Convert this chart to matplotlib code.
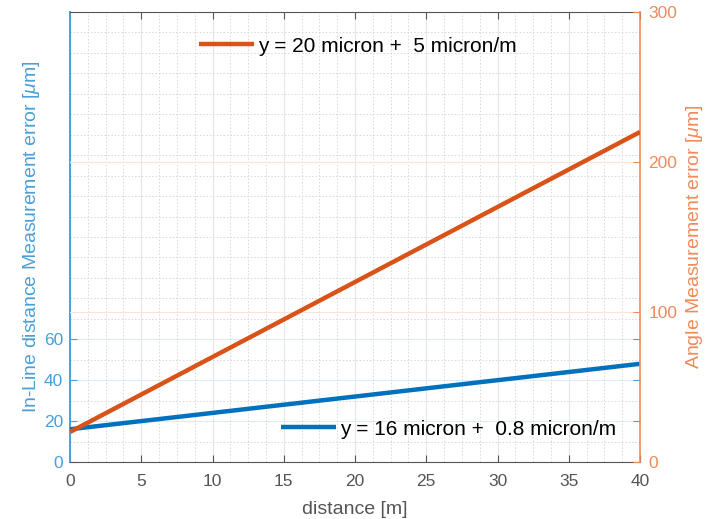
import numpy as np
import matplotlib
matplotlib.use("Agg")
import matplotlib.pyplot as plt
from matplotlib.ticker import MultipleLocator

plt.rcParams['font.family'] = ['Liberation Sans', 'DejaVu Sans']
plt.rcParams['mathtext.fontset'] = 'custom'
plt.rcParams['mathtext.it'] = 'Liberation Sans:italic'
plt.rcParams['mathtext.rm'] = 'Liberation Sans'

distance = [0, 40]
inline_err = [16, 48]      # 16 micron + 0.8 micron/m
angle_err = [20, 220]      # 20 micron + 5 micron/m
x_ticks = [0, 5, 10, 15, 20, 25, 30, 35, 40]
left_ticks = [0, 20, 40, 60]
right_ticks = [0, 100, 200, 300]
label_inline = "y = 16 micron +  0.8 micron/m"
label_angle = "y = 20 micron +  5 micron/m"

blue_line = '#0072BD'
orange_line = '#D95319'
blue_axis = '#4a9fd8'
orange_axis = '#ef8a5c'
grey_text = '#555555'

fig = plt.figure(figsize=(7.05, 5.19), dpi=100)
ax = fig.add_axes([70/705, 57/519, 570/705, 450/519])
ax2 = ax.twinx()

ax.set_xlim(0, 40)
ax.set_ylim(0, 220)
ax2.set_ylim(0, 300)

# grids
ax.set_xticks(x_ticks)
ax.xaxis.set_minor_locator(MultipleLocator(1.25))
ax.yaxis.set_minor_locator(MultipleLocator(10))
for xv in x_ticks[1:-1]:
    ax.axvline(xv, color='#e6e6e6', lw=0.8, zorder=0)
ax.grid(which='minor', axis='both', color='#d8d8d8', ls=(0, (1.5, 2)), lw=0.7, zorder=0)
for yv in left_ticks[1:]:
    ax.axhline(yv, color='#dcecf8', lw=0.8, zorder=0)
for yv in right_ticks[1:-1]:
    ax2.axhline(yv, color='#fbe3d8', lw=0.8, zorder=0)

ax.set_yticks(left_ticks)
ax2.set_yticks(right_ticks)
ax.tick_params(axis='y', which='minor', length=0)
ax.tick_params(axis='x', which='minor', length=0)

l1, = ax.plot(distance, inline_err, color=blue_line, lw=3.2, solid_capstyle='butt', label=label_inline, zorder=3)
l2, = ax2.plot(distance, angle_err, color=orange_line, lw=3.2, solid_capstyle='butt', label=label_angle, zorder=3)

# spines
for sp in ['top', 'bottom']:
    ax.spines[sp].set_color('#555555')
    ax2.spines[sp].set_visible(False)
ax.spines['left'].set_color(blue_axis)
ax.spines['left'].set_linewidth(1.4)
ax2.spines['right'].set_color(orange_axis)
ax2.spines['right'].set_linewidth(1.2)
ax.spines['right'].set_visible(False)
ax2.spines['left'].set_visible(False)

ax.tick_params(axis='x', which='major', direction='in', top=True, length=5, colors='#555555',
               labelsize=12.5, labelcolor=grey_text, pad=9)
ax.tick_params(axis='y', which='major', direction='in', length=5, colors=blue_axis,
               labelsize=12.5, labelcolor=blue_axis, right=True, labelright=False, pad=5)
ax2.tick_params(axis='y', which='major', direction='in', length=5, colors=orange_axis,
                labelsize=12.5, labelcolor=orange_axis, pad=6)

ax.set_xlabel('distance [m]', fontsize=14, color=grey_text, labelpad=8)
ax.set_ylabel(r'In-Line distance Measurement error [$\mu$m]', fontsize=14, color=blue_axis, labelpad=1)
ax2.set_ylabel(r'Angle Measurement error [$\mu$m]', fontsize=14, color=orange_axis, labelpad=5)

leg2 = ax2.legend(handles=[l2], loc='center', bbox_to_anchor=(0.505, 0.924), frameon=False,
                  fontsize=15, handlelength=2.65, handletextpad=0.2)
leg1 = ax.legend(handles=[l1], loc='center', bbox_to_anchor=(0.664, 0.073), frameon=False,
                 fontsize=15, handlelength=2.65, handletextpad=0.2)

fig.savefig('out.png', dpi=100)
